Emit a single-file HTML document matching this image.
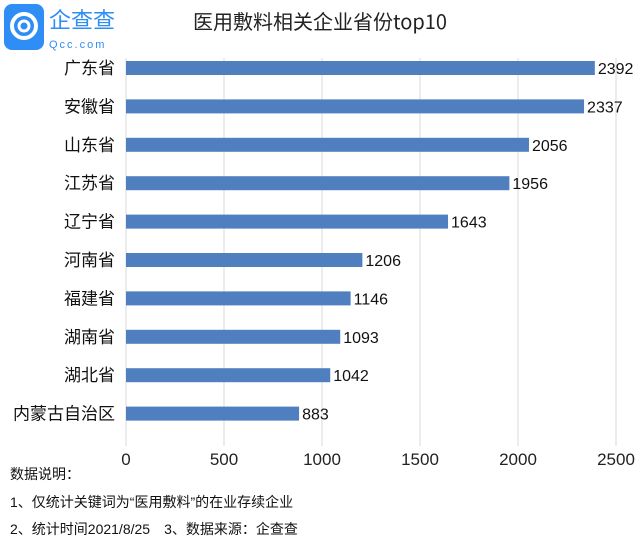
<!DOCTYPE html>
<html><head><meta charset="utf-8">
<style>
body{margin:0;background:#fff;}
#c{position:relative;width:640px;height:539px;overflow:hidden;font-family:"Liberation Sans","Noto Sans CJK SC",sans-serif;}
.note{position:absolute;left:10px;font-size:14px;color:#111;}
</style></head>
<body>
<div id="c">
 <svg width="640" height="539" style="position:absolute;left:0;top:0">
  <g>
   <rect x="4" y="4" width="40" height="46" rx="8" fill="#2f8ef5"/>
   <circle cx="24" cy="26" r="12" fill="none" stroke="#fff" stroke-width="4"/>
   <circle cx="24" cy="26" r="5" fill="none" stroke="#fff" stroke-width="3"/>
   <text x="49" y="28" font-size="22" fill="#2f8ef5" font-family="Noto Sans CJK SC,sans-serif">企查查</text>
   <text x="49" y="48" font-size="11" fill="#2f8ef5" letter-spacing="2">Qcc.com</text>
  </g>
  <text x="320" y="29" text-anchor="middle" font-size="20" fill="#222" font-family="Noto Sans CJK SC,sans-serif">医用敷料相关企业省份top10</text>
  <g id="grid"></g><g id="bars"></g>
 </svg>
 <div class="note" style="top:464px">数据说明：</div>
 <div class="note" style="top:492px">1、仅统计关键词为“医用敷料”的在业存续企业</div>
 <div class="note" style="top:519px">2、统计时间2021/8/25　3、数据来源：企查查</div>
</div>
<script>
const categories=["广东省","安徽省","山东省","江苏省","辽宁省","河南省","福建省","湖南省","湖北省","内蒙古自治区"];
const values=[2392,2337,2056,1956,1643,1206,1146,1093,1042,883];
const ticks=[0,500,1000,1500,2000,2500];
const NS="http://www.w3.org/2000/svg";
const x=v=>126+v*0.196;
const y=i=>68+i*38.4;
function mk(t,a,p){const e=document.createElementNS(NS,t);for(const k in a)e.setAttribute(k,a[k]);p.appendChild(e);return e;}
const g=document.getElementById('grid'),b=document.getElementById('bars');
ticks.forEach(t=>{
 const l=mk('line',{x1:x(t),x2:x(t),y1:58,y2:446,stroke:'#d9d9d9','stroke-width':1},g);
 
 
 const tx=mk('text',{x:x(t),y:465,'text-anchor':'middle','font-size':17,fill:'#222'},g);
 tx.textContent=t;
 
 
});
categories.forEach((c,i)=>{
 const r=mk('rect',{x:x(0),y:y(i)-7,width:x(values[i])-x(0),height:14,fill:'#4f7fbf'},b);
 
 
 const lb=mk('text',{x:115,y:y(i)+6,'text-anchor':'end','font-size':17,fill:'#111','font-family':'Noto Sans CJK SC,sans-serif'},b);
 lb.textContent=c;
 
 
 const vl=mk('text',{x:x(values[i])+3,y:y(i)+6,'font-size':16,fill:'#111'},b);
 vl.textContent=values[i];
 
 
});
</script>
</body></html>
